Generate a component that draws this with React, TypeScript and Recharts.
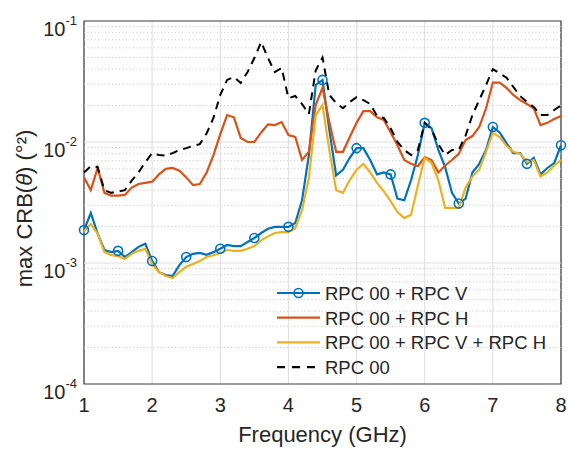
import {
  CartesianGrid,
  Line,
  LineChart,
  ReferenceArea,
  ReferenceLine,
  XAxis,
  YAxis
} from "recharts";

// frequency grid (GHz)
const freqs = [
  1.0, 1.1, 1.2, 1.3, 1.4, 1.5, 1.6, 1.7, 1.8, 1.9,
  2.0, 2.1, 2.2, 2.3, 2.4, 2.5, 2.6, 2.7, 2.8, 2.9,
  3.0, 3.1, 3.2, 3.3, 3.4, 3.5, 3.6, 3.7, 3.8, 3.9,
  4.0, 4.1, 4.2, 4.3, 4.4, 4.5, 4.6, 4.7, 4.8, 4.9,
  5.0, 5.1, 5.2, 5.3, 5.4, 5.5, 5.6, 5.7, 5.8, 5.9,
  6.0, 6.1, 6.2, 6.3, 6.4, 6.5, 6.6, 6.7, 6.8, 6.9,
  7.0, 7.1, 7.2, 7.3, 7.4, 7.5, 7.6, 7.7, 7.8, 7.9, 8.0
];

// RPC 00 + RPC V
const rpcV = [
  1.87e-3, 2.59e-3, 1.75e-3, 1.28e-3, 1.23e-3, 1.26e-3, 1.12e-3, 1.23e-3, 1.36e-3, 1.44e-3,
  1.04e-3, 8.4e-4, 7.95e-4, 7.8e-4, 9.6e-4, 1.12e-3, 1.19e-3, 1.21e-3, 1.17e-3, 1.23e-3,
  1.31e-3, 1.41e-3, 1.38e-3, 1.38e-3, 1.49e-3, 1.61e-3, 1.77e-3, 1.92e-3, 1.99e-3, 1.99e-3,
  1.99e-3, 2.14e-3, 3.3e-3, 7.8e-3, 2.96e-2, 3.26e-2, 1.26e-2, 5.3e-3, 5.9e-3, 7.4e-3,
  8.9e-3, 8.9e-3, 7.1e-3, 5.4e-3, 5.6e-3, 5.4e-3, 3.4e-3, 3.3e-3, 4.85e-3, 7.8e-3,
  1.44e-2, 1.3e-2, 8.6e-3, 6.2e-3, 3.8e-3, 3.1e-3, 3.4e-3, 5.6e-3, 6.6e-3, 8.6e-3,
  1.33e-2, 1.2e-2, 9.8e-3, 8.1e-3, 8.1e-3, 6.6e-3, 7.4e-3, 5.4e-3, 6.1e-3, 6.7e-3, 9.4e-3
];

// RPC 00 + RPC H
const rpcH = [
  5.1e-3, 4.0e-3, 6.1e-3, 3.8e-3, 3.6e-3, 3.6e-3, 3.65e-3, 4.2e-3, 4.5e-3, 4.6e-3,
  4.7e-3, 5.4e-3, 6.0e-3, 6.1e-3, 5.8e-3, 5.1e-3, 4.4e-3, 4.5e-3, 5.6e-3, 7.8e-3,
  1.16e-2, 1.67e-2, 1.6e-2, 1.08e-2, 1.0e-2, 1.0e-2, 1.2e-2, 1.4e-2, 1.38e-2, 1.46e-2,
  1.14e-2, 1.1e-2, 7.1e-3, 8.3e-3, 2.02e-2, 2.8e-2, 1.46e-2, 8.3e-3, 8.3e-3, 1.1e-2,
  1.44e-2, 1.8e-2, 1.8e-2, 1.6e-2, 1.52e-2, 1.2e-2, 9.4e-3, 7.1e-3, 6.6e-3, 6.3e-3,
  7.5e-3, 7.1e-3, 5.6e-3, 6.4e-3, 7.1e-3, 8.0e-3, 1.04e-2, 1.12e-2, 1.33e-2, 1.9e-2,
  3.1e-2, 3.1e-2, 2.8e-2, 2.45e-2, 2.22e-2, 2.06e-2, 1.9e-2, 1.38e-2, 1.44e-2, 1.55e-2, 1.64e-2
];

// RPC 00 + RPC V + RPC H
const rpcVH = [
  1.83e-3, 2.1e-3, 1.75e-3, 1.23e-3, 1.16e-3, 1.14e-3, 1.08e-3, 1.19e-3, 1.26e-3, 1.31e-3,
  9.8e-4, 8.4e-4, 7.8e-4, 7.5e-4, 8.4e-4, 9.3e-4, 9.8e-4, 1.04e-3, 1.12e-3, 1.16e-3,
  1.21e-3, 1.28e-3, 1.26e-3, 1.26e-3, 1.31e-3, 1.38e-3, 1.54e-3, 1.66e-3, 1.77e-3, 1.8e-3,
  1.8e-3, 1.94e-3, 2.75e-3, 5.0e-3, 1.67e-2, 2.02e-2, 8.6e-3, 4.0e-3, 3.8e-3, 4.85e-3,
  5.9e-3, 6.6e-3, 5.6e-3, 4.6e-3, 3.9e-3, 3.25e-3, 2.64e-3, 2.35e-3, 2.5e-3, 4.4e-3,
  7.4e-3, 6.7e-3, 4.85e-3, 2.85e-3, 2.85e-3, 2.85e-3, 4.2e-3, 5.2e-3, 5.9e-3, 8.3e-3,
  1.19e-2, 1.1e-2, 9.3e-3, 8.3e-3, 8.0e-3, 6.8e-3, 7.1e-3, 5.2e-3, 5.6e-3, 6.4e-3, 7.1e-3
];

// RPC 00
const rpc00 = [
  5.6e-3, 6.3e-3, 6.2e-3, 4.0e-3, 3.8e-3, 3.9e-3, 4.0e-3, 4.8e-3, 5.6e-3, 6.8e-3,
  8.1e-3, 7.8e-3, 7.7e-3, 8.1e-3, 8.6e-3, 8.9e-3, 9.3e-3, 9.6e-3, 1.18e-2, 1.58e-2,
  2.45e-2, 3.26e-2, 3.45e-2, 3.07e-2, 3.79e-2, 4.94e-2, 6.7e-2, 4.94e-2, 3.79e-2, 4.1e-2,
  2.3e-2, 2.4e-2, 2.06e-2, 1.7e-2, 3.9e-2, 5.0e-2, 2.45e-2, 2.1e-2, 1.9e-2, 2.14e-2,
  2.35e-2, 2.22e-2, 2.06e-2, 1.64e-2, 1.58e-2, 1.3e-2, 1.0e-2, 8.6e-3, 7.8e-3, 8.6e-3,
  1.44e-2, 1.27e-2, 9.6e-3, 7.8e-3, 8.6e-3, 8.6e-3, 1.13e-2, 1.67e-2, 2.22e-2, 2.96e-2,
  4.0e-2, 3.7e-2, 3.4e-2, 2.85e-2, 2.4e-2, 2.14e-2, 1.95e-2, 1.67e-2, 1.67e-2, 1.84e-2, 2.0e-2
];

const xTicks = [1, 2, 3, 4, 5, 6, 7, 8];
const yTicks = [1e-4, 1e-3, 1e-2, 1e-1];
const minorSteps = [2, 3, 4, 5, 6, 7, 8, 9];

const data = freqs.map((f, i) => ({
  f,
  v: rpcV[i],
  h: rpcH[i],
  vh: rpcVH[i],
  o: rpc00[i]
}));

const minorLines = yTicks.slice(0, -1).flatMap((d) => minorSteps.map((m) => m * d));

const FONT = '"Liberation Sans", Arial, Helvetica, sans-serif';
const TXT = "#262626";
const BLUE = "#0072BD";
const RED = "#D95319";
const YELLOW = "#EDB120";

function YTick({ y, payload }: any) {
  const exp = Math.round(Math.log10(payload.value));
  return (
    <text x={77} y={y + 15} textAnchor="end" fill={TXT} fontFamily={FONT}>
      <tspan fontSize={20}>10</tspan>
      <tspan fontSize={13} dy={-11}>{exp}</tspan>
    </text>
  );
}

function XTick({ x, payload }: any) {
  return (
    <text x={x} y={412} textAnchor="middle" fill={TXT} fontFamily={FONT} fontSize={20}>
      {payload.value}
    </text>
  );
}

function YLabel({ viewBox }: any) {
  const cy = viewBox.y + viewBox.height / 2 + 6;
  const cx = 32;
  return (
    <text
      x={cx}
      y={cy}
      transform={`rotate(-90 ${cx} ${cy})`}
      textAnchor="middle"
      fill={TXT}
      fontFamily={FONT}
      fontSize={22}
    >
      max CRB(<tspan fontStyle="italic">θ</tspan>) (°²)
    </text>
  );
}

function BlueDot(props: any) {
  const { cx, cy, index } = props;
  if (index % 5 !== 0) return <g key={`d${index}`} />;
  return (
    <circle key={`d${index}`} cx={cx} cy={cy} r={4.5} fill="none" stroke={BLUE} strokeWidth={1.6} />
  );
}

const legendItems = [
  { label: "RPC 00 + RPC V", color: BLUE, dash: undefined as string | undefined, marker: true },
  { label: "RPC 00 + RPC H", color: RED, dash: undefined, marker: false },
  { label: "RPC 00 + RPC V + RPC H", color: YELLOW, dash: undefined, marker: false },
  { label: "RPC 00", color: "#000000", dash: "8 7", marker: false }
];

export default function App() {
  return (
    <div style={{ position: "absolute", left: 0, top: 0, width: 568, height: 449, background: "#fff" }}>
      <LineChart
        width={568}
        height={449}
        data={data}
        margin={{ top: 21, right: 7, bottom: 0, left: 0 }}
      >
        <CartesianGrid horizontal={false} stroke="#dedede" strokeWidth={1} />
        {minorLines.map((v) => (
          <ReferenceLine key={`m${v}`} y={v} stroke="#c4c4c4" strokeDasharray="1 2.5" strokeWidth={1} />
        ))}
        {yTicks.slice(1, -1).map((v) => (
          <ReferenceLine key={`M${v}`} y={v} stroke="#dedede" strokeWidth={1} />
        ))}
        <XAxis
          dataKey="f"
          type="number"
          domain={[1, 8]}
          ticks={xTicks}
          height={65}
          tickLine={false}
          axisLine={false}
          tick={<XTick />}
          label={{
            value: "Frequency (GHz)",
            position: "insideBottom",
            offset: 7,
            fill: TXT,
            fontSize: 22,
            fontFamily: FONT
          }}
        />
        <YAxis
          scale="log"
          type="number"
          domain={[1e-4, 1e-1]}
          ticks={yTicks}
          allowDataOverflow
          width={84}
          tickLine={false}
          axisLine={false}
          tick={<YTick />}
          label={<YLabel />}
        />
        <Line
          type="linear"
          dataKey="v"
          stroke={BLUE}
          strokeWidth={2.2}
          dot={BlueDot}
          activeDot={false}
          isAnimationActive={false}
        />
        <Line
          type="linear"
          dataKey="h"
          stroke={RED}
          strokeWidth={2.2}
          dot={false}
          activeDot={false}
          isAnimationActive={false}
        />
        <Line
          type="linear"
          dataKey="vh"
          stroke={YELLOW}
          strokeWidth={2.2}
          dot={false}
          activeDot={false}
          isAnimationActive={false}
        />
        <Line
          type="linear"
          dataKey="o"
          stroke="#000000"
          strokeWidth={2}
          strokeDasharray="8 6"
          dot={false}
          activeDot={false}
          isAnimationActive={false}
        />
        <ReferenceArea
          x1={1}
          x2={8}
          y1={1e-4}
          y2={1e-1}
          fill="none"
          stroke="#3a3a3a"
          strokeWidth={1.2}
          ifOverflow="visible"
        />
      </LineChart>
      <svg
        width={300}
        height={100}
        style={{ position: "absolute", left: 270, top: 280, overflow: "visible" }}
      >
        {legendItems.map((it, i) => {
          const cy = 13 + i * 24.7;
          return (
            <g key={it.label}>
              <line
                x1={7}
                x2={50}
                y1={cy}
                y2={cy}
                stroke={it.color}
                strokeWidth={2.2}
                strokeDasharray={it.dash}
              />
              {it.marker && (
                <circle cx={28.5} cy={cy} r={4.5} fill="none" stroke={it.color} strokeWidth={1.6} />
              )}
              <text x={55} y={cy + 7} fontSize={18.5} fill={TXT} fontFamily={FONT}>
                {it.label}
              </text>
            </g>
          );
        })}
      </svg>
    </div>
  );
}
